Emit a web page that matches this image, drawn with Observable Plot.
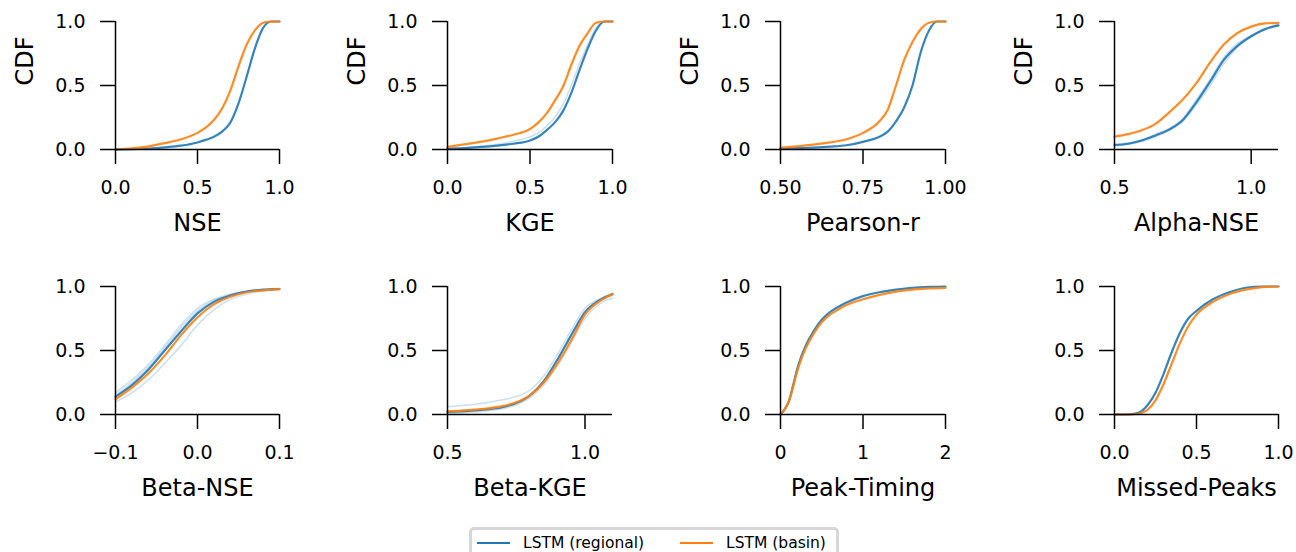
<!DOCTYPE html>
<html>
<head>
<meta charset="utf-8">
<script src="https://cdn.jsdelivr.net/npm/d3@7"></script>
<script src="https://cdn.jsdelivr.net/npm/@observablehq/plot@0.6"></script>
<style>
  html, body { margin: 0; padding: 0; background: #fff; overflow: hidden; }
  #root { position: relative; width: 1296px; height: 552px; font-family: "DejaVu Sans", sans-serif; }
  .panel { position: absolute; }
  .panel svg { overflow: visible; }
  #legend { position: absolute; left: 469px; top: 527px; width: 364px; height: 32px;
            border: 3px solid #d6d6d6; border-radius: 5px; background: #fff;
            font-size: 15.5px; color: #000; }
  .item { position: absolute; top: 0; height: 26px; display: flex; align-items: center; white-space: nowrap; }
  .swatch { display: inline-block; width: 33px; height: 2px; margin-right: 13px; }
</style>
</head>
<body>
<div id="root"></div>
<script>
// ---------- data ----------
const yTicks = [0, 0.5, 1.0];
const seriesNames = ["LSTM (regional)", "LSTM (basin)"];
const seriesColors = ["#1f77b4", "#ff7f0e"];

// NSE
const nseX        = [0, 0.1, 0.2, 0.3, 0.4, 0.5, 0.55, 0.6, 0.65, 0.7, 0.75, 0.8, 0.85, 0.9, 0.95, 1.0];
const nseRegional = [0, 0.003, 0.008, 0.017, 0.03, 0.055, 0.075, 0.1, 0.14, 0.21, 0.36, 0.57, 0.79, 0.95, 1.0, 1.0];
const nseBasin    = [0, 0.01, 0.025, 0.05, 0.08, 0.13, 0.17, 0.23, 0.32, 0.46, 0.65, 0.82, 0.93, 0.99, 1.0, 1.0];
const nseTicks = [0, 0.5, 1.0];

// KGE
const kgeX        = [0, 0.1, 0.2, 0.3, 0.4, 0.5, 0.55, 0.6, 0.65, 0.7, 0.75, 0.8, 0.85, 0.9, 0.95, 1.0];
const kgeRegional = [0.005, 0.01, 0.02, 0.03, 0.045, 0.07, 0.1, 0.15, 0.21, 0.3, 0.44, 0.62, 0.79, 0.93, 1.0, 1.0];
const kgeBasin    = [0.02, 0.04, 0.06, 0.085, 0.115, 0.16, 0.21, 0.28, 0.38, 0.49, 0.66, 0.81, 0.91, 0.99, 1.0, 1.0];
const kgeMember1  = [0.01, 0.015, 0.025, 0.04, 0.065, 0.1, 0.13, 0.18, 0.25, 0.35, 0.5, 0.67, 0.82, 0.95, 1.0, 1.0];
const kgeTicks = [0, 0.5, 1.0];

// Pearson-r
const pearX        = [0.5, 0.55, 0.6, 0.65, 0.7, 0.75, 0.8, 0.825, 0.85, 0.875, 0.9, 0.925, 0.95, 0.975, 1.0];
const pearRegional = [0.005, 0.01, 0.015, 0.022, 0.033, 0.06, 0.1, 0.14, 0.22, 0.33, 0.5, 0.76, 0.93, 1.0, 1.0];
const pearBasin    = [0.015, 0.025, 0.038, 0.055, 0.08, 0.13, 0.22, 0.31, 0.5, 0.7, 0.84, 0.94, 0.99, 1.0, 1.0];
const pearTicks = [0.5, 0.75, 1.0];

// Alpha-NSE
const alphaX        = [0.5, 0.55, 0.6, 0.65, 0.7, 0.75, 0.8, 0.85, 0.9, 0.95, 1.0, 1.05, 1.1];
const alphaRegional = [0.035, 0.045, 0.07, 0.11, 0.155, 0.23, 0.37, 0.53, 0.7, 0.81, 0.885, 0.94, 0.97];
const alphaBasin    = [0.1, 0.12, 0.15, 0.2, 0.29, 0.39, 0.52, 0.68, 0.82, 0.91, 0.96, 0.985, 0.99];
const alphaMember1  = [0.03, 0.04, 0.065, 0.1, 0.15, 0.22, 0.35, 0.5, 0.67, 0.8, 0.88, 0.935, 0.965];
const alphaMember2  = [0.04, 0.05, 0.075, 0.12, 0.165, 0.24, 0.39, 0.55, 0.72, 0.83, 0.89, 0.945, 0.975];
const alphaTicks = [0.5, 1.0];

// Beta-NSE
const bnseX        = [-0.1, -0.08, -0.06, -0.04, -0.02, 0, 0.02, 0.04, 0.06, 0.08, 0.1];
const bnseRegional = [0.14, 0.23, 0.35, 0.5, 0.65, 0.79, 0.88, 0.93, 0.96, 0.975, 0.98];
const bnseBasin    = [0.12, 0.21, 0.32, 0.46, 0.62, 0.76, 0.86, 0.92, 0.955, 0.97, 0.98];
const bnseMember1  = [0.1, 0.17, 0.27, 0.4, 0.54, 0.7, 0.82, 0.9, 0.94, 0.965, 0.98];
const bnseMember2  = [0.17, 0.27, 0.39, 0.54, 0.7, 0.83, 0.9, 0.94, 0.965, 0.975, 0.985];
const bnseMember3  = [0.15, 0.25, 0.37, 0.52, 0.68, 0.81, 0.89, 0.935, 0.96, 0.975, 0.983];
const bnseTicks = [-0.1, 0, 0.1];

// Beta-KGE
const bkgeX        = [0.5, 0.55, 0.6, 0.65, 0.7, 0.75, 0.8, 0.85, 0.9, 0.95, 1.0, 1.05, 1.1];
const bkgeRegional = [0.02, 0.025, 0.032, 0.042, 0.058, 0.09, 0.15, 0.26, 0.43, 0.62, 0.8, 0.89, 0.94];
const bkgeBasin    = [0.025, 0.03, 0.038, 0.048, 0.065, 0.095, 0.15, 0.25, 0.4, 0.58, 0.78, 0.88, 0.94];
const bkgeMember1  = [0.06, 0.07, 0.08, 0.095, 0.115, 0.14, 0.19, 0.3, 0.47, 0.66, 0.83, 0.9, 0.95];
const bkgeMember2  = [0.01, 0.015, 0.02, 0.03, 0.045, 0.075, 0.13, 0.23, 0.38, 0.56, 0.75, 0.86, 0.91];
const bkgeTicks = [0.5, 1.0];

// Peak-Timing
const peakX        = [0, 0.05, 0.1, 0.15, 0.2, 0.25, 0.3, 0.4, 0.5, 0.6, 0.7, 0.8, 1.0, 1.2, 1.4, 1.6, 1.8, 2.0];
const peakRegional = [0, 0.04, 0.1, 0.22, 0.35, 0.45, 0.53, 0.65, 0.74, 0.8, 0.84, 0.875, 0.925, 0.955, 0.975, 0.99, 0.997, 1.0];
const peakBasin    = [0, 0.04, 0.1, 0.21, 0.33, 0.43, 0.51, 0.63, 0.72, 0.78, 0.82, 0.855, 0.9, 0.935, 0.96, 0.975, 0.985, 0.99];
const peakTicks = [0, 1, 2];

// Missed-Peaks
const missX        = [0, 0.1, 0.15, 0.2, 0.25, 0.3, 0.35, 0.4, 0.45, 0.5, 0.6, 0.7, 0.8, 0.9, 1.0];
const missRegional = [0, 0.002, 0.015, 0.07, 0.17, 0.32, 0.49, 0.64, 0.75, 0.81, 0.9, 0.955, 0.99, 1.0, 1.0];
const missBasin    = [0, 0.0, 0.006, 0.035, 0.11, 0.24, 0.4, 0.56, 0.69, 0.78, 0.88, 0.94, 0.975, 0.995, 1.0];
const missTicks = [0, 0.5, 1.0];

const panels = [
  {label: "NSE",          x: nseX,   regional: nseRegional,   basin: nseBasin,   members: [],                                      domain: [0, 1],      ticks: nseTicks,   fmt: ".1f", row: 0, col: 0},
  {label: "KGE",          x: kgeX,   regional: kgeRegional,   basin: kgeBasin,   members: [kgeMember1],                            domain: [0, 1],      ticks: kgeTicks,   fmt: ".1f", row: 0, col: 1},
  {label: "Pearson-r",    x: pearX,  regional: pearRegional,  basin: pearBasin,  members: [],                                      domain: [0.5, 1],    ticks: pearTicks,  fmt: ".2f", row: 0, col: 2},
  {label: "Alpha-NSE",    x: alphaX, regional: alphaRegional, basin: alphaBasin, members: [alphaMember1, alphaMember2],            domain: [0.5, 1.1],  ticks: alphaTicks, fmt: ".1f", row: 0, col: 3},
  {label: "Beta-NSE",     x: bnseX,  regional: bnseRegional,  basin: bnseBasin,  members: [bnseMember1, bnseMember2, bnseMember3], domain: [-0.1, 0.1], ticks: bnseTicks,  fmt: ".1f", row: 1, col: 0},
  {label: "Beta-KGE",     x: bkgeX,  regional: bkgeRegional,  basin: bkgeBasin,  members: [bkgeMember1, bkgeMember2],             domain: [0.5, 1.1],  ticks: bkgeTicks,  fmt: ".1f", row: 1, col: 1},
  {label: "Peak-Timing",  x: peakX,  regional: peakRegional,  basin: peakBasin,  members: [],                                      domain: [0, 2],      ticks: peakTicks,  fmt: "d",   row: 1, col: 2},
  {label: "Missed-Peaks", x: missX,  regional: missRegional,  basin: missBasin,  members: [],                                      domain: [0, 1],      ticks: missTicks,  fmt: ".1f", row: 1, col: 3}
];

// ---------- layout ----------
const colLeft = [115, 447, 780, 1114];
const colWidth = [164, 165, 165, 164];
const rowTop = [21, 286];
const frameH = 128;
const mL = 115, mR = 16, mT = 21, mB = 100;
const font = "DejaVu Sans";

const root = document.getElementById("root");

panels.forEach(p => {
  const rows = arr => p.x.map((x, i) => ({x, y: arr[i]}));
  const fw = colWidth[p.col];
  const marks = [];
  p.members.forEach(m => marks.push(
    Plot.line(rows(m), {x: "x", y: "y", stroke: seriesColors[0], strokeOpacity: 0.22, strokeWidth: 1.6, curve: "monotone-x"})
  ));
  marks.push(Plot.line(rows(p.regional), {x: "x", y: "y", stroke: seriesColors[0], strokeOpacity: 0.9, strokeWidth: 2.2, curve: "monotone-x"}));
  marks.push(Plot.line(rows(p.basin),    {x: "x", y: "y", stroke: seriesColors[1], strokeOpacity: 0.9, strokeWidth: 2.2, curve: "monotone-x"}));
  // spines
  marks.push(Plot.ruleX([p.domain[0]], {stroke: "black", strokeWidth: 1.5}));
  marks.push(Plot.ruleY([yTicks[0]], {stroke: "black", strokeWidth: 1.5}));
  // axes
  marks.push(Plot.axisX({ticks: p.ticks, tickFormat: d3.format(p.fmt), tickSize: 15, tickPadding: 16, strokeWidth: 1.5, label: null}));
  marks.push(Plot.axisY({ticks: yTicks, tickFormat: d3.format(".1f"), tickSize: 15, tickPadding: 15, strokeWidth: 1.5, label: null}));
  // axis titles
  marks.push(Plot.text([p.label], {text: d => d, frameAnchor: "bottom", dy: 64, lineAnchor: "top", fontSize: 24, fill: "black"}));
  if (p.row === 0) {
    marks.push(Plot.text(["CDF"], {text: d => d, frameAnchor: "left", dx: -100, rotate: -90, lineAnchor: "top", fontSize: 24, fill: "black"}));
  }
  const chart = Plot.plot({
    width: mL + fw + mR,
    height: mT + frameH + mB,
    marginLeft: mL, marginRight: mR, marginTop: mT, marginBottom: mB,
    x: {domain: p.domain},
    y: {domain: [0, 1]},
    style: {fontSize: "19px", fontFamily: font, color: "black", background: "transparent", overflow: "visible"},
    marks
  });
  const wrap = document.createElement("div");
  wrap.className = "panel";
  wrap.style.left = (colLeft[p.col] - mL) + "px";
  wrap.style.top = (rowTop[p.row] - mT) + "px";
  wrap.appendChild(chart);
  root.appendChild(wrap);
});

// ---------- legend ----------
const legend = document.createElement("div");
legend.id = "legend";
const itemLeft = [5, 208];
seriesNames.forEach((name, i) => {
  const it = document.createElement("div");
  it.className = "item";
  it.style.left = itemLeft[i] + "px";
  const sw = document.createElement("span");
  sw.className = "swatch";
  sw.style.background = seriesColors[i];
  const tx = document.createElement("span");
  tx.textContent = name;
  it.appendChild(sw);
  it.appendChild(tx);
  legend.appendChild(it);
});
root.appendChild(legend);
</script>
</body>
</html>
